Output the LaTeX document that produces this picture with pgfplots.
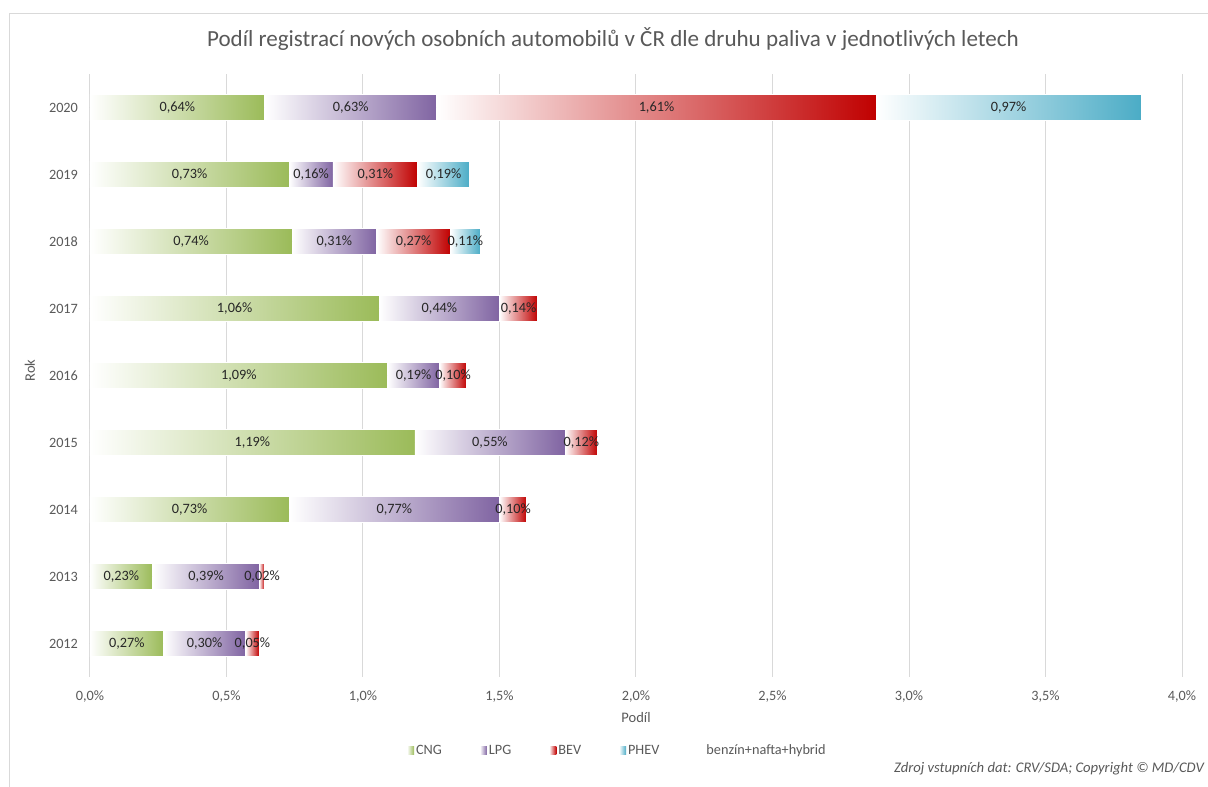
\documentclass[border=0pt]{standalone}
\usepackage{pgfplots}
\pgfplotsset{compat=1.18}
\usepackage{pgfplotstable}
\usepackage{fontspec}
\setmainfont{Carlito}
\definecolor{txtgrey}{HTML}{595959}
\definecolor{gridgrey}{HTML}{D9D9D9}
\definecolor{cngc}{HTML}{9BBB59}
\definecolor{lpgc}{HTML}{8064A2}
\definecolor{bevc}{HTML}{C00000}
\definecolor{phevc}{HTML}{4BACC6}
\definecolor{lblc}{HTML}{262626}

% s = start of the segment (cumulative share), w = share of the fuel (%)
\pgfplotstableread{
year s w
2012 0 0.27
2013 0 0.23
2014 0 0.73
2015 0 1.19
2016 0 1.09
2017 0 1.06
2018 0 0.74
2019 0 0.73
2020 0 0.64
}\cng
\pgfplotstableread{
year s w
2012 0.27 0.30
2013 0.23 0.39
2014 0.73 0.77
2015 1.19 0.55
2016 1.09 0.19
2017 1.06 0.44
2018 0.74 0.31
2019 0.73 0.16
2020 0.64 0.63
}\lpg
\pgfplotstableread{
year s w
2012 0.57 0.05
2013 0.62 0.02
2014 1.50 0.10
2015 1.74 0.12
2016 1.28 0.10
2017 1.50 0.14
2018 1.05 0.27
2019 0.89 0.31
2020 1.27 1.61
}\bev
\pgfplotstableread{
year s w
2018 1.32 0.11
2019 1.20 0.19
2020 2.88 0.97
}\phev

\pgfplotsset{
  segment/.style={
    only marks, mark=*, mark size=0pt, mark options={draw=none, fill=none},
    scatter, point meta=explicit,
    scatter/@pre marker code/.code={%
      \pgfmathfloattofixed{\pgfplotspointmeta}\let\w\pgfmathresult
      \path[draw=white, line width=0.5pt, left color=white, right color=#1]
        (0pt,-9.75pt) rectangle ({\w*204.75pt},9.75pt);
      \node[font=\fontsize{10.7}{12.8}\selectfont, text=lblc, inner sep=0pt]
        at ({\w*102.375pt},0pt)
        {\pgfmathprintnumber[fixed,fixed zerofill,precision=2,use comma,assume math mode=true]{\w}\%};
    },
    scatter/@post marker code/.code={},
    legend image code/.code={\path[draw=none, left color=white, right color=#1] (0pt,-3pt) rectangle (5.25pt,3pt);},
  },
}

\begin{document}
\begin{tikzpicture}
\useasboundingbox (0,0) rectangle (906pt,-590.25pt);
\draw[gridgrey, line width=0.75pt] (6.75pt,-590.25pt) |- (906pt,-10.5pt);
\node[anchor=base, font=\fontsize{17.3}{20}\selectfont, text=txtgrey] at (459.75pt,-35.25pt)
  {Podíl registrací nových osobních automobilů v ČR dle druhu paliva v jednotlivých letech};
\node[anchor=base, font=\fontsize{10.9}{12.8}\selectfont, text=txtgrey] at (477pt,-542.25pt) {Podíl};
\node[anchor=base, rotate=90, font=\fontsize{10.9}{12.8}\selectfont, text=txtgrey] at (26.25pt,-277.9pt) {Rok};
\node[anchor=base east, font=\itshape\fontsize{11}{13}\selectfont, text=txtgrey] at (906.5pt,-579.75pt)
  {Zdroj vstupních dat: CRV/SDA; Copyright © MD/CDV};
\begin{axis}[
  at={(67.5pt,-55.5pt)}, anchor=north west,
  scale only axis, width=819pt, height=452.25pt,
  xmin=0, xmax=4, ymin=2011.5, ymax=2020.5,
  axis line style={draw=none}, tick style={draw=none},
  xmajorgrids, grid style={gridgrey, line width=0.75pt},
  xtick={0,0.5,...,4},
  xticklabel={\pgfmathprintnumber[fixed,fixed zerofill,precision=1,use comma]{\tick}\%},
  ytick={2012,2013,...,2020},
  yticklabels={2012,2013,2014,2015,2016,2017,2018,2019,2020},
  /pgf/number format/assume math mode=true,
  tick label style={font=\fontsize{10.7}{12.8}\selectfont, text=txtgrey},
  yticklabel style={xshift=-5.5pt},
  xticklabel style={yshift=-7pt},
  clip=false,
  legend columns=5,
  legend style={at={(axis description cs:0.483,-0.1227)}, anchor=center, draw=none, fill=none,
    font=\fontsize{10.7}{12.8}\selectfont, text=txtgrey,
    /tikz/every even column/.append style={column sep=27pt}, nodes={inner xsep=1.5pt}},
]
\addplot[segment=cngc] table[x=s, y=year, meta=w] {\cng};
\addlegendentry{CNG}
\addplot[segment=lpgc] table[x=s, y=year, meta=w] {\lpg};
\addlegendentry{LPG}
\addplot[segment=bevc] table[x=s, y=year, meta=w] {\bev};
\addlegendentry{BEV}
\addplot[segment=phevc] table[x=s, y=year, meta=w] {\phev};
\addlegendentry{PHEV}
\addlegendimage{draw=none, fill=none, legend image code/.code={\path[draw=none, fill=none] (0pt,-3pt) rectangle (5.25pt,3pt);}}
\addlegendentry{benzín+nafta+hybrid}
\end{axis}
\end{tikzpicture}
\end{document}
